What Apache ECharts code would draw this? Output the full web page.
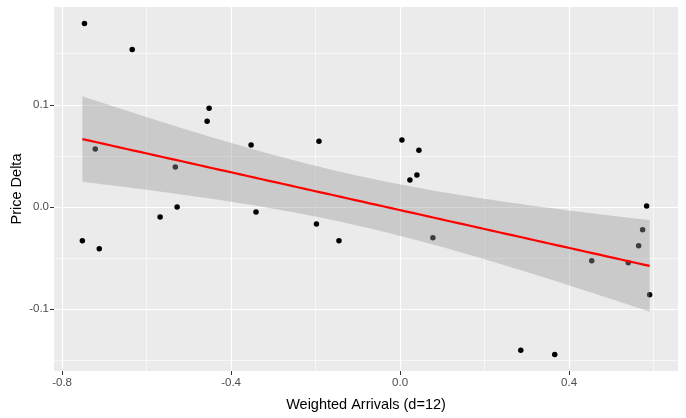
<!DOCTYPE html>
<html>
<head>
<meta charset="utf-8">
<script src="https://cdn.jsdelivr.net/npm/echarts@6/dist/echarts.min.js"></script>
<style>
html,body{margin:0;padding:0;background:#fff;}
#chart{width:686px;height:418px;}
</style>
</head>
<body>
<div id="chart"></div>
<script>
// weighted arrivals (x) and price delta (y)
var arrivals = [-0.747,-0.634,-0.7215,-0.452,-0.4567,-0.532,-0.5277,-0.3527,-0.192,-0.752,
  -0.712,-0.568,-0.341,-0.198,-0.1447,0.0043,0.0445,0.0232,0.0398,0.0776,
  0.2856,0.366,0.4535,0.540,0.5646,0.574,0.5835,0.5906];
var priceDelta = [0.1795,0.154,0.0566,0.0966,0.0839,0.039,0.000,0.0605,0.0644,-0.0332,
  -0.041,-0.0098,-0.0049,-0.0166,-0.0332,0.0654,0.0556,0.0263,0.0312,-0.0302,
  -0.1402,-0.1444,-0.0527,-0.0546,-0.038,-0.0224,0.001,-0.0859];
var xTicks = [-0.8,-0.4,0.0,0.4];
var xMinor = [-0.6,-0.2,0.2,0.6];
var yTicks = [-0.1,0.0,0.1];
var yMinor = [-0.15,-0.05,0.05,0.15];

// lm fit + 95% band (like geom_smooth(method="lm"))
var n = arrivals.length, mx = 0, my = 0;
for (var i=0;i<n;i++){ mx+=arrivals[i]; my+=priceDelta[i]; }
mx/=n; my/=n;
var sxx=0, sxy=0;
for (var i=0;i<n;i++){ sxx+=(arrivals[i]-mx)*(arrivals[i]-mx); sxy+=(arrivals[i]-mx)*(priceDelta[i]-my); }
var slope = sxy/sxx, icpt = my - slope*mx;
var sse=0;
for (var i=0;i<n;i++){ var r=priceDelta[i]-(icpt+slope*arrivals[i]); sse+=r*r; }
var sres = Math.sqrt(sse/(n-2));
var tq = 2.0555; // qt(0.975, 26)
var xlo = Math.min.apply(null, arrivals), xhi = Math.max.apply(null, arrivals);
var fitLine=[], upper=[], lower=[];
for (var k=0;k<80;k++){
  var x = xlo + (xhi-xlo)*k/79;
  var f = icpt + slope*x;
  var se = sres*Math.sqrt(1/n + (x-mx)*(x-mx)/sxx);
  fitLine.push([x,f]); upper.push([x,f+tq*se]); lower.push([x,f-tq*se]);
}
var pts = arrivals.map(function(x,i){ return [x, priceDelta[i]]; });

var xr = xhi-xlo, ylo=Math.min.apply(null,priceDelta), yhi=Math.max.apply(null,priceDelta), yr=yhi-ylo;
var xMin = xlo-0.05*xr, xMax = xhi+0.05*xr, yMin = ylo-0.05*yr, yMax = yhi+0.05*yr;

var font = 'Liberation Sans, Arial, sans-serif';
var chart = echarts.init(document.getElementById('chart'));
function fmt(v){ return v.toFixed(1); }
var minorSplit = {show:true, lineStyle:{color:'#ffffff', width:0.6}};
chart.setOption({
  animation:false,
  backgroundColor:'#ffffff',
  grid:{left:54, right:8, top:7, bottom:47, show:true, backgroundColor:'#EBEBEB', borderWidth:0,
        containLabel:false, outerBoundsMode:'none'},
  xAxis:[{
    type:'value', min:xMin, max:xMax,
    name:'Weighted Arrivals (d=12)', nameLocation:'middle', nameGap:26, nameMoveOverlap:false,
    nameTextStyle:{fontFamily:font, fontSize:14.5, color:'#000'},
    axisLine:{show:false, onZero:false},
    axisTick:{show:true, length:4, customValues:xTicks, lineStyle:{color:'#333333', width:1}},
    axisLabel:{customValues:xTicks, formatter:fmt, fontFamily:font, fontSize:11.5, color:'#4D4D4D', margin:6},
    splitLine:{show:true, lineStyle:{color:'#ffffff', width:1.2}}
  },{
    type:'value', min:xMin, max:xMax, position:'bottom',
    axisLine:{show:false, onZero:false}, axisLabel:{show:false},
    axisTick:{show:false, customValues:xMinor},
    splitLine:minorSplit
  }],
  yAxis:[{
    type:'value', min:yMin, max:yMax,
    name:'Price Delta', nameLocation:'middle', nameGap:30, nameRotate:90, nameMoveOverlap:false,
    nameTextStyle:{fontFamily:font, fontSize:14.5, color:'#000'},
    axisLine:{show:false, onZero:false},
    axisTick:{show:true, length:4, customValues:yTicks, lineStyle:{color:'#333333', width:1}},
    axisLabel:{customValues:yTicks, formatter:fmt, fontFamily:font, fontSize:11.5, color:'#4D4D4D', margin:5},
    splitLine:{show:true, lineStyle:{color:'#ffffff', width:1.2}}
  },{
    type:'value', min:yMin, max:yMax, position:'left',
    axisLine:{show:false, onZero:false}, axisLabel:{show:false},
    axisTick:{show:false, customValues:yMinor},
    splitLine:minorSplit
  }],
  series:[
    {type:'scatter', data:pts, symbolSize:5.5, itemStyle:{color:'#000000', opacity:1}, z:3},
    {type:'custom', z:4, silent:true, data:[0],
     renderItem:function(params, api){
       var poly=[];
       upper.forEach(function(p){ poly.push(api.coord(p)); });
       for (var j=lower.length-1;j>=0;j--) poly.push(api.coord(lower[j]));
       return {type:'polygon', shape:{points:poly}, style:{fill:'rgba(153,153,153,0.4)'}};
     }},
    {type:'line', data:fitLine, showSymbol:false, z:5,
     lineStyle:{color:'#FF0000', width:2.2}}
  ]
});
</script>
</body>
</html>
